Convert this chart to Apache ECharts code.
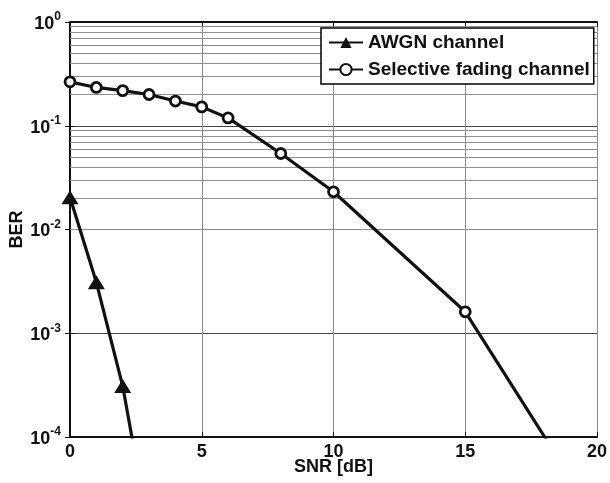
<!DOCTYPE html>
<html>
<head>
<meta charset="utf-8">
<script src="https://cdn.jsdelivr.net/npm/echarts@6/dist/echarts.min.js"></script>
<style>html,body{margin:0;padding:0;background:#fff}#c{width:610px;height:483px}</style>
</head>
<body>
<div id="c"></div>
<script>
var snrAwgn = [0, 1, 2, 3];
var berAwgn = [0.0205, 0.0031, 0.00031, 0.000012];
var snrFading = [0, 1, 2, 3, 4, 5, 6, 8, 10, 15, 20];
var berFading = [0.265, 0.234, 0.218, 0.200, 0.173, 0.152, 0.119, 0.054, 0.0231, 0.00161, 0.000016];
var xTicks = [0, 5, 10, 15, 20];
var seriesNames = ['AWGN channel', 'Selective fading channel'];

var FONT = '"Liberation Sans", Arial, sans-serif';
function pairs(xs, ys) { return xs.map(function (x, i) { return [x, ys[i]]; }); }

var minorLines = [];
for (var d = -4; d <= -1; d++) {
  for (var k = 2; k <= 9; k++) minorLines.push({ yAxis: k * Math.pow(10, d) });
}

var chart = echarts.init(document.getElementById('c'), null, { renderer: 'canvas' });
chart.setOption({
  animation: false,
  backgroundColor: '#fff',
  textStyle: { fontFamily: FONT },
  grid: { left: 70, top: 22, right: 13, bottom: 46, containLabel: false, outerBoundsMode: 'none' },
  legend: {
    data: seriesNames,
    orient: 'vertical',
    left: 321, top: 28,
    padding: [5, 4, 5, 7],
    itemGap: 8,
    itemWidth: 34, itemHeight: 14,
    backgroundColor: '#fff',
    borderColor: '#000', borderWidth: 1.5,
    z: 10,
    textStyle: { fontFamily: FONT, fontWeight: 'bold', fontSize: 19, color: '#111' }
  },
  xAxis: [{
    type: 'value', min: 0, max: 20, interval: 5,
    name: 'SNR [dB]', nameLocation: 'middle', nameGap: 21, nameMoveOverlap: false,
    nameTextStyle: { fontFamily: FONT, fontWeight: 'bold', fontSize: 18, color: '#111' },
    axisLine: { lineStyle: { color: '#111', width: 2 } },
    axisTick: { inside: true, length: 5, lineStyle: { color: '#111' } },
    axisLabel: { fontFamily: FONT, fontWeight: 'bold', fontSize: 18, color: '#111', margin: 6,
      formatter: function (v) { return xTicks.indexOf(v) >= 0 ? String(v) : ''; } },
    splitLine: { show: true, lineStyle: { color: '#8a8a8a', width: 1 } }
  }, {
    type: 'value', min: 0, max: 20, interval: 5, position: 'top',
    axisLine: { show: true, lineStyle: { color: '#111', width: 2 } },
    axisTick: { show: true, inside: true, length: 5, lineStyle: { color: '#111' } },
    axisLabel: { show: false }, splitLine: { show: false }
  }],
  yAxis: [{
    type: 'log', logBase: 10, min: 0.0001, max: 1,
    name: 'BER', nameLocation: 'middle', nameGap: 44, nameRotate: 90, nameMoveOverlap: false,
    nameTextStyle: { fontFamily: FONT, fontWeight: 'bold', fontSize: 18, color: '#111' },
    axisLine: { show: true, lineStyle: { color: '#111', width: 2 } },
    axisTick: { show: true, inside: true, length: 5, lineStyle: { color: '#111' } },
    axisLabel: {
      margin: 9,
      formatter: function (v) {
        var e = Math.round(Math.log(v) / Math.LN10);
        return '{b|10}{s|' + e + '}';
      },
      rich: {
        b: { fontFamily: FONT, fontWeight: 'bold', fontSize: 18, color: '#111', lineHeight: 22, verticalAlign: 'bottom' },
        s: { fontFamily: FONT, fontWeight: 'bold', fontSize: 12, color: '#111', lineHeight: 22, verticalAlign: 'top' }
      }
    },
    splitLine: { show: true, lineStyle: { color: '#444', width: 1 } }
  }, {
    type: 'log', logBase: 10, min: 0.0001, max: 1, position: 'right',
    axisLine: { show: true, lineStyle: { color: '#111', width: 2 } },
    axisTick: { show: true, inside: true, length: 5, lineStyle: { color: '#111' } },
    axisLabel: { show: false }, splitLine: { show: false }
  }],
  series: [{
    name: 'minor-grid', type: 'line', data: [], z: 1, silent: true,
    markLine: {
      silent: true, symbol: ['none', 'none'], animation: false, z: 1,
      label: { show: false },
      lineStyle: { color: '#8f8f8f', width: 1, type: 'solid' },
      emphasis: { disabled: true },
      data: minorLines
    }
  }, {
    name: seriesNames[0], type: 'line', z: 3,
    data: pairs(snrAwgn, berAwgn),
    symbol: 'triangle', symbolSize: [17, 14],
    lineStyle: { color: '#111', width: 3.2 },
    itemStyle: { color: '#111', borderColor: '#111', borderWidth: 0 },
    clip: true
  }, {
    name: seriesNames[1], type: 'line', z: 3,
    data: pairs(snrFading, berFading),
    symbol: 'circle', symbolSize: 10,
    lineStyle: { color: '#111', width: 3.2 },
    itemStyle: { color: '#fff', borderColor: '#111', borderWidth: 2.8 },
    clip: true
  }]
});
</script>
</body>
</html>
